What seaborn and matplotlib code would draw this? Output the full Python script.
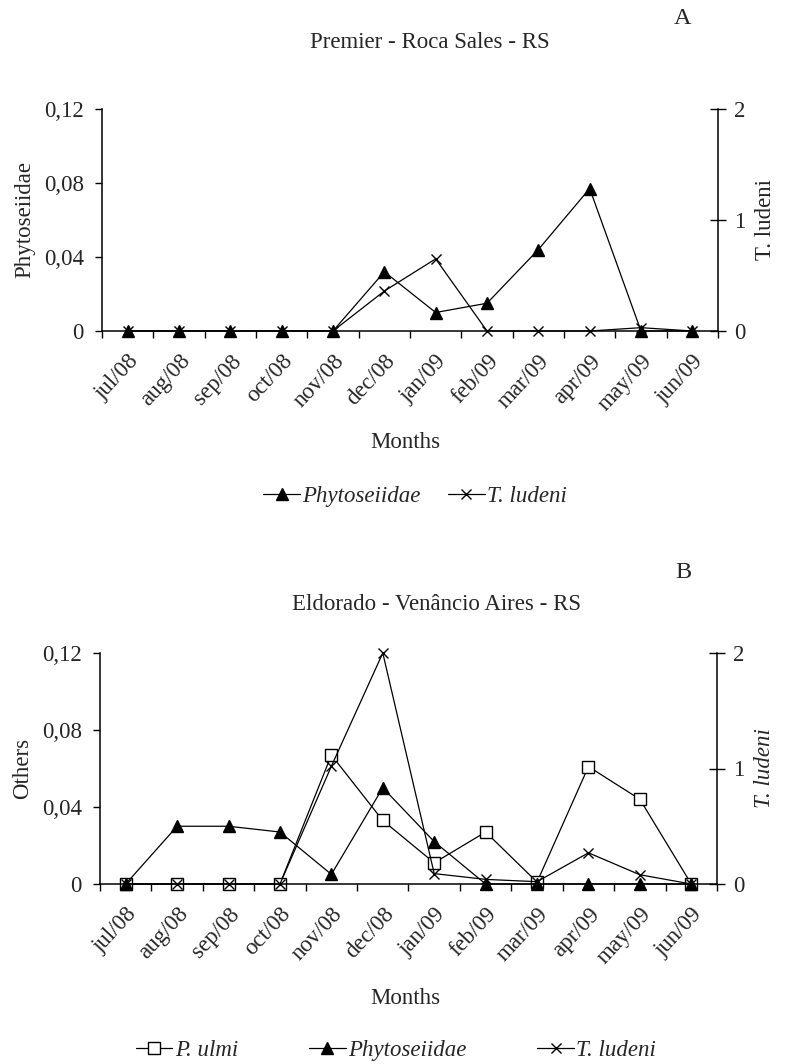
import matplotlib
matplotlib.use("Agg")
import matplotlib.pyplot as plt
import seaborn as sns
import numpy as np

# month categories shared by both panels
months = ["jul/08", "aug/08", "sep/08", "oct/08", "nov/08", "dec/08",
          "jan/09", "feb/09", "mar/09", "apr/09", "may/09", "jun/09"]

# Panel A - Premier - Roca Sales
phyto_a = [0, 0, 0, 0, 0, 0.032, 0.010, 0.015, 0.044, 0.077, 0, 0]
ludeni_a = [0, 0, 0, 0, 0, 0.36, 0.65, 0, 0, 0, 0.03, 0]

# Panel B - Eldorado - Venancio Aires
ulmi_b = [0, 0, 0, 0, 0.067, 0.033, 0.011, 0.027, 0.001, 0.061, 0.044, 0]
phyto_b = [0, 0.030, 0.030, 0.027, 0.005, 0.050, 0.022, 0, 0, 0, 0, 0]
ludeni_b = [0, 0, 0, 0, 1.02, 2.0, 0.09, 0.04, 0.02, 0.27, 0.08, 0]

left_ticks = [0, 0.04, 0.08, 0.12]
left_labels = ["0", "0,04", "0,08", "0,12"]
right_ticks = [0, 1, 2]

sns.set_style("ticks")
plt.rcParams['font.family'] = ['Liberation Serif', 'DejaVu Serif']
FS = 16.5

fig = plt.figure(figsize=(7.88, 10.64), dpi=100)
W, H = 788, 1064


def setup_axes(ax, ax2, left_label, right_label, right_italic):
    x = np.arange(len(months))
    ax.set_xlim(-0.5, len(months) - 0.5)
    ax.set_ylim(0, 0.12)
    ax2.set_ylim(0, 2)
    for a in (ax, ax2):
        a.spines['top'].set_visible(False)
        for s in ('left', 'right', 'bottom'):
            a.spines[s].set_linewidth(1.1)
            a.spines[s].set_color('black')
    ax.spines['right'].set_visible(False)
    ax2.spines['left'].set_visible(False)
    ax2.spines['bottom'].set_visible(False)
    # tick marks between categories, labels at category centres
    ax.set_xticks(np.arange(-0.5, len(months), 1.0))
    ax.set_xticklabels([])
    ax.set_xticks(x, minor=True)
    ax.set_xticklabels(months, minor=True, rotation=47, ha='right',
                       rotation_mode='anchor', fontsize=FS)
    ax.tick_params(axis='x', which='major', direction='out', length=5,
                   width=1, color='black')
    ax.tick_params(axis='x', which='minor', length=0, pad=14)
    ax.set_yticks(left_ticks)
    ax.set_yticklabels(left_labels, fontsize=FS)
    ax.tick_params(axis='y', direction='out', length=5, width=1,
                   color='black', pad=8)
    ax2.set_yticks(right_ticks)
    ax2.set_yticklabels([str(t) for t in right_ticks], fontsize=FS)
    ax2.tick_params(axis='y', direction='inout', length=11, width=1,
                    color='black', pad=6)
    ax.set_xlabel("")
    ax.set_ylabel(left_label, fontsize=FS, labelpad=6)
    ax2.set_ylabel(right_label, fontsize=FS, labelpad=7, rotation=90,
                   style='italic' if right_italic else 'normal')
    ax.grid(False)
    ax2.grid(False)


line_kw = dict(color='black', linewidth=0.9, markeredgecolor='black',
               markeredgewidth=1, clip_on=False)

xs = np.arange(len(months))

# ---------- Panel A ----------
axA = fig.add_axes([102 / W, 1 - 331 / H, 616 / W, 222 / H])
axA2 = axA.twinx()
sns.lineplot(x=xs, y=phyto_a, ax=axA, marker='^', markersize=8,
             label='Phytoseiidae', **line_kw)
sns.lineplot(x=xs, y=ludeni_a, ax=axA2, marker='x', markersize=7,
             label='T. ludeni', **line_kw)
setup_axes(axA, axA2, 'Phytoseiidae', 'T. ludeni', False)
hA = axA.get_legend_handles_labels()
hA2 = axA2.get_legend_handles_labels()
axA.get_legend().remove()
axA2.get_legend().remove()
fig.legend(hA[0] + hA2[0], hA[1] + hA2[1], loc='center',
           bbox_to_anchor=(415 / W, 1 - 496 / H), ncol=2, frameon=False,
           prop={'style': 'italic', 'size': FS}, handlelength=1.6,
           handletextpad=0.1, columnspacing=1.2)

fig.text(430 / W, 1 - 42 / H, "Premier - Roca Sales - RS", ha='center',
         va='center', fontsize=FS)
fig.text(683 / W, 1 - 18 / H, "A", ha='center', va='center', fontsize=FS + 1)
fig.text(405 / W, 1 - 443 / H, "Months", ha='center', va='center', fontsize=FS)

# ---------- Panel B ----------
axB = fig.add_axes([100 / W, 1 - 884 / H, 617 / W, 231 / H])
axB2 = axB.twinx()
sns.lineplot(x=xs, y=ulmi_b, ax=axB, marker='s', markersize=9,
             markerfacecolor='white', label='P. ulmi', **line_kw)
sns.lineplot(x=xs, y=phyto_b, ax=axB, marker='^', markersize=8,
             label='Phytoseiidae', **line_kw)
sns.lineplot(x=xs, y=ludeni_b, ax=axB2, marker='x', markersize=7,
             label='T. ludeni', **line_kw)
setup_axes(axB, axB2, 'Others', 'T. ludeni', True)
hB = axB.get_legend_handles_labels()
hB2 = axB2.get_legend_handles_labels()
axB.get_legend().remove()
axB2.get_legend().remove()
fig.legend(hB[0] + hB2[0], hB[1] + hB2[1], loc='center',
           bbox_to_anchor=(396 / W, 1 - 1050 / H), ncol=3, frameon=False,
           prop={'style': 'italic', 'size': FS}, handlelength=1.6,
           handletextpad=0.1, columnspacing=3.1)

fig.text(437 / W, 1 - 605 / H, "Eldorado - Venâncio Aires - RS", ha='center',
         va='center', fontsize=FS)
fig.text(683 / W, 1 - 572 / H, "B", ha='center', va='center', fontsize=FS + 1)
fig.text(405 / W, 1 - 998 / H, "Months", ha='center', va='center', fontsize=FS)

fig.savefig("out.png", dpi=100)
